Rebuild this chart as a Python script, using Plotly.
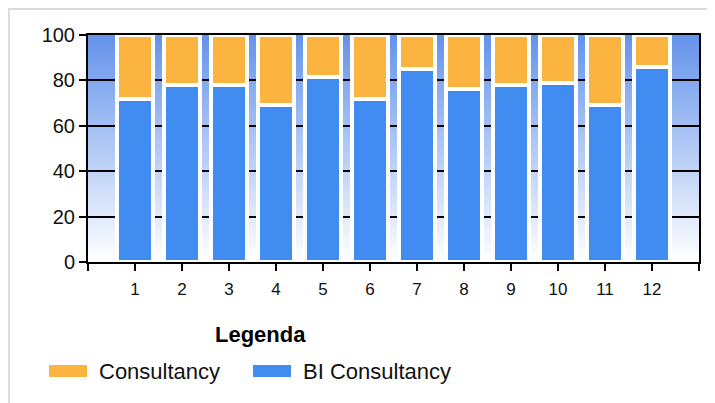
import base64
import struct
import zlib

import plotly.graph_objects as go

# data
months = [1, 2, 3, 4, 5, 6, 7, 8, 9, 10, 11, 12]
bi_consultancy = [72, 78, 78, 69, 81.5, 72, 85, 76, 78, 79, 69, 86]
consultancy = [100 - v for v in bi_consultancy]
y_ticks = [0, 20, 40, 60, 80, 100]

BLUE = "#418CF0"
ORANGE = "#FCB441"

# page is drawn with the default 8px body margin
OFF = 8
W, H = 715 - OFF, 403 - OFF
# plot area in page pixels
X0, X1, Y0, Y1 = 88, 699, 35, 262
L, R, T, B = X0 - OFF, W - (X1 - OFF), Y0 - OFF, H - (Y1 - OFF)
PW, PH = X1 - X0, Y1 - Y0


def px(x):
    return (x - X0) / PW


def py(y):
    return (Y1 - y) / PH


def gradient_png(top, bottom, n):
    # 1 x n png, vertical gradient, for the plot background
    raw = b""
    for i in range(n):
        f = i / (n - 1)
        rgb = bytes(round(top[k] + (bottom[k] - top[k]) * f) for k in range(3))
        raw += b"\x00" + rgb

    def chunk(tag, data):
        c = tag + data
        return struct.pack(">I", len(data)) + c + struct.pack(">I", zlib.crc32(c) & 0xFFFFFFFF)

    png = b"\x89PNG\r\n\x1a\n"
    png += chunk(b"IHDR", struct.pack(">IIBBBBB", 1, n, 8, 2, 0, 0, 0))
    png += chunk(b"IDAT", zlib.compress(raw))
    png += chunk(b"IEND", b"")
    return "data:image/png;base64," + base64.b64encode(png).decode()


fig = go.Figure()
fig.add_trace(go.Bar(x=months, y=bi_consultancy, name="BI Consultancy",
                     marker=dict(color=BLUE, line=dict(color="white", width=4)),
                     width=0.75))
fig.add_trace(go.Bar(x=months, y=consultancy, name="Consultancy",
                     marker=dict(color=ORANGE, line=dict(color="white", width=4)),
                     width=0.75))

fig.add_layout_image(dict(source=gradient_png((100, 147, 235), (255, 255, 255), PH),
                          xref="x", yref="y", x=0, y=100, sizex=13, sizey=100,
                          sizing="stretch", layer="below"))

# custom legend
fig.add_annotation(x=px(260), y=py(334), xref="paper", yref="paper", text="<b>Legenda</b>",
                   showarrow=False, xanchor="center", yanchor="middle",
                   font=dict(size=22, color="black"))
legend_items = [("Consultancy", ORANGE, 49), ("BI Consultancy", BLUE, 253)]
for name, col, x0 in legend_items:
    fig.add_shape(type="rect", xref="paper", yref="paper",
                  x0=px(x0), x1=px(x0 + 38), y0=py(365), y1=py(377),
                  fillcolor=col, line=dict(width=0))
    fig.add_annotation(x=px(x0 + 48), y=py(371), xref="paper", yref="paper", text=name,
                       showarrow=False, xanchor="left", yanchor="middle",
                       font=dict(size=22, color="#111"))

# light frame round the chart
fig.add_shape(type="line", xref="paper", yref="paper", x0=px(OFF), x1=px(715), y0=py(OFF + 1),
              y1=py(OFF + 1), line=dict(color="#dcdcdc", width=2))
fig.add_shape(type="line", xref="paper", yref="paper", x0=px(OFF + 1), x1=px(OFF + 1),
              y0=py(OFF), y1=py(403), line=dict(color="#dcdcdc", width=2))

fig.update_layout(
    barmode="stack",
    width=W, height=H,
    margin=dict(l=L, r=R, t=T, b=B),
    paper_bgcolor="white",
    plot_bgcolor="white",
    showlegend=False,
    font=dict(family="Liberation Sans, Arial, sans-serif", color="#111"),
)
fig.update_xaxes(range=[0, 13], tickvals=[0] + months + [13],
                 ticktext=[""] + [str(m) for m in months] + [""],
                 ticks="outside", ticklen=7, tickwidth=2, tickcolor="black",
                 showline=True, linecolor="black", linewidth=2, mirror=True,
                 showgrid=False, zeroline=False, tickfont=dict(size=17),
                 ticklabelstandoff=4)
fig.update_yaxes(range=[0, 100], tickvals=y_ticks,
                 ticks="outside", ticklen=7, tickwidth=2, tickcolor="black",
                 showline=True, linecolor="black", linewidth=2, mirror=True,
                 showgrid=True, gridcolor="black", gridwidth=2, zeroline=False,
                 tickfont=dict(size=20))

fig.write_html("out.html")
